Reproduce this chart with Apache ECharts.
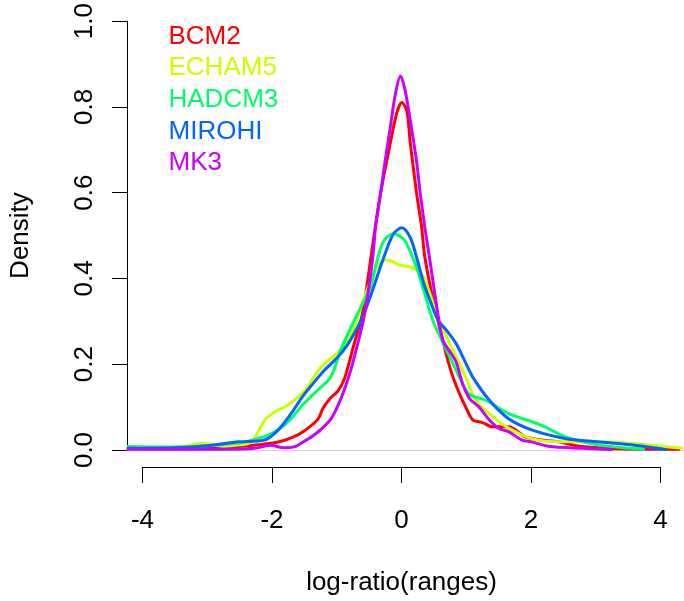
<!DOCTYPE html>
<html>
<head>
<meta charset="utf-8">
<script src="https://cdn.jsdelivr.net/npm/echarts@6/dist/echarts.min.js"></script>
<style>
html,body{margin:0;padding:0;background:#fff;}
#chart{width:684px;height:601px;}
</style>
</head>
<body>
<div id="chart"></div>
<script>
// ---- data (x = log-ratio, y = density) ----
const seriesNames = ['BCM2', 'ECHAM5', 'HADCM3', 'MIROHI', 'MK3'];
const seriesColors = ['#FF0000', '#CCFF00', '#00FF66', '#0066FF', '#CC00FF'];

const bcm2 = [[-4.35,0.003],[-3.5,0.003],[-3.0,0.004],[-2.6,0.008],[-2.3,0.012],[-2.0,0.018],[-1.75,0.03],[-1.57,0.045],[-1.36,0.072],[-1.28,0.098],[-1.16,0.122],[-1.05,0.137],[-0.95,0.165],[-0.88,0.2],[-0.8,0.245],[-0.67,0.315],[-0.56,0.42],[-0.47,0.515],[-0.38,0.6],[-0.25,0.7],[-0.13,0.785],[-0.05,0.81],[0.03,0.79],[0.08,0.72],[0.18,0.6],[0.26,0.52],[0.31,0.45],[0.44,0.35],[0.59,0.256],[0.67,0.209],[0.75,0.17],[0.85,0.132],[0.95,0.1],[1.06,0.07],[1.21,0.064],[1.37,0.054],[1.62,0.054],[1.88,0.031],[2.1,0.024],[2.4,0.019],[2.76,0.008],[3.3,0.003],[3.8,0.002],[4.3,0.002]];

const echam5 = [[-4.35,0.003],[-3.8,0.004],[-3.47,0.008],[-3.16,0.016],[-2.85,0.009],[-2.6,0.012],[-2.45,0.015],[-2.37,0.023],[-2.19,0.07],[-2.03,0.089],[-1.83,0.105],[-1.57,0.138],[-1.31,0.194],[-1.0,0.235],[-0.8,0.285],[-0.65,0.35],[-0.55,0.39],[-0.44,0.425],[-0.3,0.443],[-0.2,0.44],[-0.1,0.432],[0.1,0.426],[0.18,0.42],[0.29,0.403],[0.39,0.364],[0.49,0.32],[0.7,0.248],[0.95,0.17],[1.11,0.116],[1.47,0.066],[1.83,0.035],[2.09,0.023],[2.5,0.019],[3.01,0.019],[3.53,0.016],[4.04,0.008],[4.35,0.004]];

const hadcm3 = [[-4.35,0.008],[-3.8,0.007],[-3.3,0.008],[-2.85,0.013],[-2.5,0.019],[-2.2,0.031],[-1.98,0.047],[-1.8,0.07],[-1.67,0.093],[-1.57,0.11],[-1.36,0.14],[-1.16,0.17],[-1.0,0.235],[-0.8,0.3],[-0.7,0.33],[-0.54,0.38],[-0.44,0.44],[-0.33,0.488],[-0.18,0.504],[-0.05,0.495],[0.03,0.48],[0.18,0.426],[0.31,0.364],[0.44,0.3],[0.65,0.233],[0.85,0.17],[1.0,0.13],[1.26,0.116],[1.62,0.085],[1.98,0.066],[2.19,0.054],[2.5,0.031],[3.01,0.012],[3.53,0.004],[3.75,0.002]];

const mirohi = [[-4.35,0.004],[-3.6,0.005],[-3.1,0.01],[-2.6,0.019],[-2.2,0.023],[-1.98,0.047],[-1.77,0.087],[-1.6,0.125],[-1.41,0.16],[-1.26,0.186],[-1.05,0.217],[-0.9,0.245],[-0.74,0.287],[-0.64,0.318],[-0.49,0.38],[-0.33,0.45],[-0.18,0.504],[-0.05,0.518],[0.08,0.496],[0.18,0.45],[0.29,0.39],[0.39,0.349],[0.52,0.302],[0.65,0.279],[0.8,0.248],[0.93,0.209],[1.06,0.17],[1.32,0.116],[1.62,0.073],[1.98,0.047],[2.5,0.027],[3.01,0.019],[3.53,0.012],[4.04,0.002],[4.1,0.001]];

const mk3 = [[-4.35,0.002],[-3.5,0.002],[-2.8,0.002],[-2.35,0.004],[-2.1,0.011],[-1.9,0.005],[-1.72,0.008],[-1.6,0.018],[-1.46,0.031],[-1.3,0.05],[-1.16,0.072],[-1.05,0.103],[-0.95,0.14],[-0.85,0.185],[-0.77,0.23],[-0.64,0.31],[-0.51,0.44],[-0.46,0.52],[-0.38,0.6],[-0.31,0.674],[-0.23,0.752],[-0.15,0.83],[-0.07,0.872],[0.0,0.84],[0.1,0.752],[0.18,0.674],[0.24,0.597],[0.31,0.519],[0.39,0.442],[0.49,0.341],[0.59,0.256],[0.7,0.23],[0.8,0.205],[0.9,0.155],[1.01,0.12],[1.16,0.1],[1.32,0.07],[1.47,0.05],[1.62,0.043],[1.83,0.023],[1.98,0.019],[2.24,0.009],[2.76,0.004],[3.25,0.001]];

const seriesData = [bcm2, echam5, hadcm3, mirohi, mk3];
const xTicks = [-4, -2, 0, 2, 4];
const yTicks = [0, 0.2, 0.4, 0.6, 0.8, 1.0];

const FONT = 'Liberation Sans, Arial, sans-serif';
const FS = 26;

const chart = echarts.init(document.getElementById('chart'), null, {renderer: 'canvas'});

const lineSeries = seriesNames.map((n, i) => ({
  name: n,
  type: 'line',
  xAxisIndex: 0,
  yAxisIndex: 0,
  data: seriesData[i],
  showSymbol: false,
  smooth: 0.3,
  color: seriesColors[i],
  lineStyle: {width: 3, color: seriesColors[i]},
  animation: false,
  z: 3 + i,
  markLine: i === 0 ? {
    silent: true,
    symbol: 'none',
    label: {show: false},
    lineStyle: {color: '#d0d0d0', width: 1, type: 'solid'},
    data: [{yAxis: 0}],
    z: 1
  } : undefined
}));

chart.setOption({
  animation: false,
  backgroundColor: '#fff',
  textStyle: {fontFamily: FONT},
  legend: {
    orient: 'vertical',
    left: 163.5,
    top: 23.5,
    padding: 0,
    itemGap: 5.7,
    itemWidth: 0,
    itemHeight: 26,
    icon: 'none',
    selectedMode: false,
    textStyle: {fontSize: FS, fontFamily: FONT},
    data: seriesNames.map((n, i) => ({name: n, textStyle: {color: seriesColors[i]}}))
  },
  grid: [
    {left: 120, right: 0, top: 20, height: 430, containLabel: false},
    {left: 142.5, width: 518, top: 466, height: 1, containLabel: false}
  ],
  xAxis: [
    {type: 'value', gridIndex: 0, min: -4.347, max: 4.363, show: false},
    {
      type: 'value', gridIndex: 1, min: xTicks[0], max: xTicks[xTicks.length - 1], interval: 2,
      position: 'bottom',
      axisLine: {show: true, onZero: false, lineStyle: {color: '#000', width: 1}},
      axisTick: {show: true, length: 16, lineStyle: {color: '#000', width: 1}},
      splitLine: {show: false},
      axisLabel: {fontSize: FS, color: '#000', margin: 40.5, fontFamily: FONT},
      name: 'log-ratio(ranges)',
      nameLocation: 'middle',
      nameGap: 103,
      nameTextStyle: {fontSize: FS, color: '#000', fontFamily: FONT}
    }
  ],
  yAxis: [
    {
      type: 'value', gridIndex: 0, min: yTicks[0], max: yTicks[yTicks.length - 1], interval: 0.2,
      position: 'left',
      axisLine: {show: true, onZero: false, lineStyle: {color: '#000', width: 1}},
      axisTick: {show: true, length: 15, lineStyle: {color: '#000', width: 1}},
      splitLine: {show: false},
      axisLabel: {fontSize: FS, color: '#000', rotate: 90, margin: 29.5, fontFamily: FONT,
        formatter: v => v.toFixed(1)},
      name: 'Density',
      nameLocation: 'middle',
      nameGap: 93,
      nameTextStyle: {fontSize: FS, color: '#000', fontFamily: FONT}
    },
    {type: 'value', gridIndex: 1, min: 0, max: 1, show: false}
  ],
  series: lineSeries.concat([{type: 'line', xAxisIndex: 1, yAxisIndex: 1, data: [], silent: true}])
});
</script>
</body>
</html>
